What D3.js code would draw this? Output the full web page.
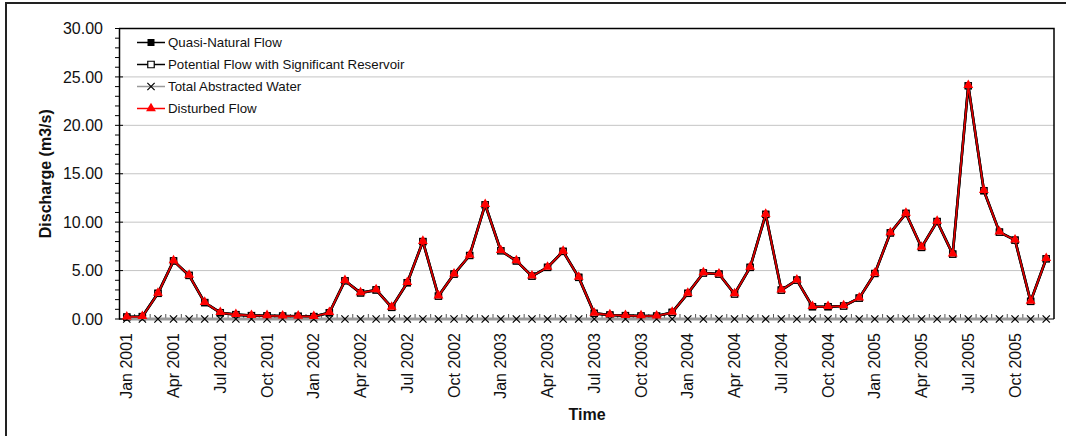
<!DOCTYPE html>
<html>
<head>
<meta charset="utf-8">
<script src="https://cdn.jsdelivr.net/npm/d3@7"></script>
<style>
html,body{margin:0;padding:0;background:#fff;}
svg{display:block;font-family:Arial,"Liberation Sans",sans-serif;}
</style>
</head>
<body>
<svg id="chart" width="1066" height="436"></svg>
<script>
const years = [2001, 2002, 2003, 2004, 2005];
const monthNames = ["Jan","Feb","Mar","Apr","May","Jun","Jul","Aug","Sep","Oct","Nov","Dec"];
const months = years.flatMap(y => monthNames.map(m => m + " " + y));
const tickLabels = months.filter((m, i) => i % 3 === 0);

const quasiNatural = [
  0.20, 0.25, 2.65, 6.00, 4.50, 1.70, 0.65, 0.45, 0.35, 0.33, 0.30, 0.28,
  0.25, 0.65, 3.95, 2.70, 3.00, 1.20, 3.75, 8.00, 2.37, 4.64, 6.56, 11.80,
  7.05, 6.00, 4.43, 5.33, 6.98, 4.30, 0.58, 0.41, 0.35, 0.31, 0.30, 0.68,
  2.65, 4.75, 4.64, 2.58, 5.33, 10.80, 2.99, 4.02, 1.27, 1.27, 1.34, 2.16,
  4.70, 8.90, 10.90, 7.39, 10.07, 6.70, 24.09, 13.25, 8.97, 8.14, 1.82, 6.22
];
const potentialReservoir = [
  0.20, 0.25, 2.65, 6.00, 4.50, 1.70, 0.65, 0.45, 0.35, 0.33, 0.30, 0.28,
  0.25, 0.65, 3.95, 2.70, 3.00, 1.20, 3.75, 8.00, 2.37, 4.64, 6.56, 11.80,
  7.05, 6.00, 4.43, 5.33, 6.98, 4.30, 0.58, 0.41, 0.35, 0.31, 0.30, 0.68,
  2.65, 4.75, 4.64, 2.58, 5.33, 10.80, 2.99, 4.02, 1.27, 1.27, 1.34, 2.16,
  4.70, 8.90, 10.90, 7.39, 10.07, 6.70, 24.09, 13.25, 8.97, 8.14, 1.82, 6.22
];
const abstractedWater = [
  0,0,0,0,0,0,0,0,0,0,0,0,
  0,0,0,0,0,0,0,0,0,0,0,0,
  0,0,0,0,0,0,0,0,0,0,0,0,
  0,0,0,0,0,0,0,0,0,0,0,0,
  0,0,0,0,0,0,0,0,0,0,0,0
];
const disturbedFlow = [
  0.20, 0.25, 2.65, 6.00, 4.50, 1.70, 0.65, 0.45, 0.35, 0.33, 0.30, 0.28,
  0.25, 0.65, 3.95, 2.70, 3.00, 1.20, 3.75, 8.00, 2.37, 4.64, 6.56, 11.80,
  7.05, 6.00, 4.43, 5.33, 6.98, 4.30, 0.58, 0.41, 0.35, 0.31, 0.30, 0.68,
  2.65, 4.75, 4.64, 2.58, 5.33, 10.80, 2.99, 4.02, 1.27, 1.27, 1.34, 2.16,
  4.70, 8.90, 10.90, 7.39, 10.07, 6.70, 24.09, 13.25, 8.97, 8.14, 1.82, 6.22
];
const yTicks = [0, 5, 10, 15, 20, 25, 30];
const legendLabels = ["Quasi-Natural Flow", "Potential Flow with Significant Reservoir", "Total Abstracted Water", "Disturbed Flow"];

const svg = d3.select("#chart");
const L = 119, R = 1054, T = 28.5, B = 319;

const x = d3.scaleBand().domain(months).range([L, R]).padding(0);
const y = d3.scaleLinear().domain([0, 30]).range([B, T]);
const cx = m => x(m) + x.bandwidth() / 2;

// outer frame
svg.append("rect").attr("x", 6).attr("y", 3).attr("width", 1080).attr("height", 460)
  .attr("fill", "none").attr("stroke", "#222").attr("stroke-width", 2);

// gridlines
svg.append("g").selectAll("line").data(yTicks.filter(v => v > 0 && v < 30)).join("line")
  .attr("x1", L).attr("x2", R).attr("y1", d => y(d)).attr("y2", d => y(d))
  .attr("stroke", "#c4c4c4").attr("stroke-width", 1);

// plot border top/right
svg.append("path").attr("d", `M${L},${T}H${R}V${B}`).attr("fill", "none")
  .attr("stroke", "#000").attr("stroke-width", 1.5);

// y axis
const yAxis = d3.axisLeft(y).tickValues(yTicks).tickFormat(d3.format(".2f")).tickSize(0).tickPadding(16);
const gy = svg.append("g").attr("transform", `translate(${L},0)`).call(yAxis);
gy.select(".domain").attr("stroke", "#000").attr("stroke-width", 1.5);
gy.selectAll("text").attr("font-size", "16px").attr("fill", "#111").attr("font-family", "Arial, 'Liberation Sans', sans-serif");
// minor + major ticks
const minor = d3.range(0, 31, 1);
svg.append("g").selectAll("line").data(minor).join("line")
  .attr("x1", L - 4).attr("x2", d => d % 5 === 0 ? L + 4 : L)
  .attr("y1", d => y(d)).attr("y2", d => y(d)).attr("stroke", "#000").attr("stroke-width", 1);

// x axis
const xAxis = d3.axisBottom(x).tickValues(tickLabels).tickSize(0).tickPadding(0);
const gx = svg.append("g").attr("transform", `translate(0,${B})`).call(xAxis);
gx.select(".domain").remove();
gx.selectAll("text")
  .attr("font-size", "16px").attr("fill", "#111").attr("font-family", "Arial, 'Liberation Sans', sans-serif")
  .attr("transform", "rotate(-90)").attr("text-anchor", "end")
  .attr("x", -14).attr("y", 0).attr("dy", "0.35em");
// x minor ticks at band boundaries (inside)
svg.append("g").selectAll("line").data(months.slice(1)).join("line")
  .attr("x1", d => x(d)).attr("x2", d => x(d)).attr("y1", B).attr("y2", B - 5)
  .attr("stroke", "#555").attr("stroke-width", 1);
svg.append("line").attr("x1", L).attr("x2", R).attr("y1", B).attr("y2", B)
  .attr("stroke", "#000").attr("stroke-width", 1);

// series
const line = vals => d3.line().x((d, i) => cx(months[i])).y(d => y(d))(vals);
const sq = d3.symbol().type(d3.symbolSquare).size(56)();
const tri = d3.symbol().type(d3.symbolTriangle).size(42)();
const cross = d3.symbol().type(d3.symbolX).size(36)();

function drawSeries(vals, lineColor, lineWidth, markerFn) {
  const g = svg.append("g");
  g.append("path").attr("d", line(vals)).attr("fill", "none")
    .attr("stroke", lineColor).attr("stroke-width", lineWidth).attr("stroke-linejoin", "round");
  const mg = g.append("g");
  vals.forEach((v, i) => markerFn(mg.append("path").attr("transform", `translate(${cx(months[i])},${y(v)})`)));
}
drawSeries(quasiNatural, "#000", 2.6, p => p.attr("d", sq).attr("fill", "#000"));
drawSeries(potentialReservoir, "#000", 2.6, p => p.attr("d", d3.symbol().type(d3.symbolSquare).size(36)()).attr("fill", "#fff").attr("stroke", "#000").attr("stroke-width", 1.2));
drawSeries(abstractedWater, "#9a9a9a", 3, p => p.attr("d", cross).attr("fill", "none").attr("stroke", "#000").attr("stroke-width", 1.2));
drawSeries(disturbedFlow, "#e00000", 1.6, p => p.attr("d", tri).attr("fill", "#ff0000").attr("transform", p.attr("transform") + " translate(0,-0.5)"));

// legend
const legY = [42.5, 64.5, 86.5, 108.5];
const legStyles = [
  {c: "#000", w: 1.5, m: g => g.append("path").attr("d", d3.symbol().type(d3.symbolSquare).size(49)()).attr("fill", "#000")},
  {c: "#000", w: 1.5, m: g => g.append("path").attr("d", d3.symbol().type(d3.symbolSquare).size(42)()).attr("fill", "#fff").attr("stroke", "#000").attr("stroke-width", 1.2)},
  {c: "#9a9a9a", w: 1.5, m: g => g.append("path").attr("d", cross).attr("fill", "none").attr("stroke", "#000").attr("stroke-width", 1.2)},
  {c: "#ff0000", w: 1.5, m: g => g.append("path").attr("d", tri).attr("fill", "#ff0000")}
];
legendLabels.forEach((lab, i) => {
  const g = svg.append("g").attr("transform", `translate(0,${legY[i]})`);
  g.append("line").attr("x1", 137).attr("x2", 165).attr("y1", 0).attr("y2", 0)
    .attr("stroke", legStyles[i].c).attr("stroke-width", legStyles[i].w);
  legStyles[i].m(g.append("g").attr("transform", "translate(151,0)"));
  g.append("text").attr("x", 168).attr("y", 0).attr("dy", "0.35em")
    .attr("font-size", "13.3px").attr("fill", "#111").text(lab);
});

// axis titles
svg.append("text").attr("transform", `translate(51,${(T + B) / 2}) rotate(-90)`)
  .attr("text-anchor", "middle").attr("font-size", "16px").attr("font-weight", "bold")
  .attr("fill", "#111").text("Discharge (m3/s)");
svg.append("text").attr("x", 587).attr("y", 420).attr("text-anchor", "middle")
  .attr("font-size", "16px").attr("font-weight", "bold").attr("fill", "#111").text("Time");
</script>
</body>
</html>
